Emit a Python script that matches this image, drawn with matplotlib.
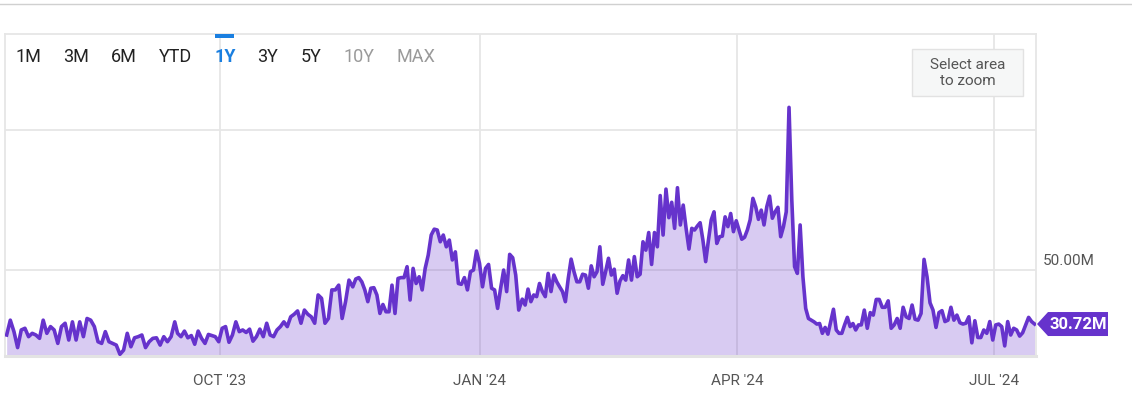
import numpy as np
import pandas as pd
import matplotlib
matplotlib.use('Agg')
from matplotlib import rcParams

rcParams['font.family'] = 'Roboto'

import matplotlib.pyplot as plt
import matplotlib.dates as mdates
from matplotlib.lines import Line2D
from matplotlib.patches import Polygon, Rectangle

# ############################################################
# daily volume, millions in 6 pieces
# ############################################################
seg_dates = [('2023-07-17 12:00', '2023-09-15 00:00'),
             ('2023-09-16 00:00', '2023-11-15 16:00'),
             ('2023-11-17 00:00', '2024-01-14 18:00'),
             ('2024-01-16 00:00', '2024-03-15 00:00'),
             ('2024-03-16 00:00', '2024-05-14 00:00'),
             ('2024-05-15 00:00', '2024-07-15 08:00')]

vol_1 = [26.8, 32.1, 28.0, 22.3, 28.6, 29.2, 26.2, 27.4, 26.8, 25.6, 32.1, 27.4, 29.8, 28.6,
         23.8, 29.8, 31.0, 25.0, 31.5, 25.0, 31.5, 26.2, 32.7, 32.1, 29.8, 24.4, 23.8, 28.0,
         24.4, 23.8, 23.2, 19.9, 21.4, 27.4, 22.6, 25.8, 26.2, 26.8, 22.3, 24.4, 25.6, 25.8,
         23.2, 26.2, 24.4, 26.2, 31.5]
vol_2 = [27.4, 26.2, 28.2, 25.8, 26.6, 23.5, 28.2, 25.6, 23.8, 27.0, 26.6, 26.2, 24.4, 29.2,
         29.8, 24.2, 26.8, 31.5, 28.0, 28.6, 27.7, 28.9, 24.6, 26.2, 28.9, 26.2, 31.0, 26.8,
         26.2, 28.6, 29.8, 31.5, 29.8, 33.3, 34.2, 35.4, 31.0, 35.7, 34.2, 33.3, 31.0, 41.1,
         39.9, 31.0, 32.7, 42.9, 42.9, 44.6, 32.7, 38.7, 46.4]
vol_3 = [44.0, 46.8, 47.3, 45.8, 42.9, 38.7, 43.5, 43.7, 41.1, 34.5, 37.7, 35.1, 35.1, 44.6,
         34.5, 47.0, 47.3, 47.3, 51.2, 39.3, 50.6, 45.2, 47.6, 42.9, 50.6, 55.3, 62.5, 64.6,
         64.3, 60.1, 62.5, 58.3, 60.7, 53.6, 56.5, 45.2, 44.9, 47.3, 42.9, 49.4, 50.0, 56.8,
         52.4, 44.0, 50.6, 52.0, 43.5, 42.9, 36.3, 43.5, 50.0, 42.3, 55.6, 54.4, 48.2, 35.7]
vol_4 = [39.6, 37.5, 43.2, 38.7, 41.1, 40.5, 45.2, 42.3, 40.5, 48.8, 42.3, 48.2, 45.8, 44.0,
         42.3, 38.7, 47.0, 53.9, 49.4, 45.8, 45.8, 48.5, 48.2, 43.5, 51.5, 47.6, 49.4, 58.3,
         44.9, 49.4, 54.2, 48.2, 50.3, 41.7, 46.1, 48.0, 46.4, 53.6, 46.4, 54.8, 47.6, 48.5,
         60.1, 57.1, 63.4, 52.0, 63.4, 58.3, 76.6, 62.5, 78.9, 68.7, 74.2, 64.9, 79.4, 66.1,
         73.2, 64.9, 57.5]
vol_5 = [64.9, 64.3, 65.7, 66.9, 60.7, 53.0, 60.7, 67.9, 70.8, 59.5, 61.9, 62.1, 69.0, 65.5,
         70.2, 63.7, 67.6, 64.3, 61.0, 61.7, 64.3, 67.9, 75.6, 72.6, 68.1, 71.4, 66.1, 72.6,
         76.4, 68.5, 70.8, 72.4, 61.9, 65.5, 70.8, 108.1, 75.0, 51.2, 48.8, 66.1, 47.6, 36.3,
         32.7, 32.1, 31.5, 30.7, 30.9, 27.4, 29.5, 27.1, 31.5, 36.0, 28.6, 27.4, 27.4, 30.4,
         33.1, 29.8, 30.9, 28.6, 30.4]
vol_6 = [30.4, 35.7, 29.2, 34.8, 33.9, 39.5, 39.5, 36.7, 36.7, 39.0, 29.2, 30.4, 32.7, 29.2,
         36.7, 33.3, 32.7, 37.5, 32.4, 32.1, 34.5, 53.8, 47.6, 38.3, 35.7, 29.5, 34.8, 35.5,
         31.6, 32.1, 36.7, 32.1, 33.9, 31.2, 30.7, 31.0, 33.3, 24.0, 31.9, 25.9, 25.9, 28.6,
         27.4, 31.6, 25.0, 30.4, 30.7, 29.8, 22.9, 31.6, 26.8, 29.2, 28.6, 26.4, 27.6, 30.4,
         33.1, 31.6, 30.72]

month_ticks = ['2023-10-01', '2024-01-01', '2024-04-01', '2024-07-01']
month_labels = ["OCT '23", "JAN '24", "APR '24", "JUL '24"]
y_grid = [50, 100]
y_labels = ['50.00M']
range_buttons = ['1M', '3M', '6M', 'YTD', '1Y', '3Y', '5Y', '10Y', 'MAX']
last_label = '30.72M'

LINE = '#6633cc'
GRID = '#e6e6e6'
TXT = '#555555'


def build_series():
    xs, ys = [], []
    for (d0, d1), vals in zip(seg_dates, [vol_1, vol_2, vol_3, vol_4, vol_5, vol_6]):
        t = np.linspace(mdates.date2num(pd.Timestamp(d0)), mdates.date2num(pd.Timestamp(d1)), len(vals))
        xs.extend(t)
        ys.extend(vals)
    return np.array(xs), np.array(ys)


def main():
    x, y = build_series()

    fig = plt.figure(figsize=(11.32, 4.0), dpi=100)
    ax = fig.add_axes([5 / 1132, 44 / 400, 1031 / 1132, 322 / 400])

    ax.set_xlim(mdates.date2num(pd.Timestamp('2023-07-16 22:00')),
                mdates.date2num(pd.Timestamp('2024-07-15 20:00')))
    ax.set_ylim(19.3, 134.3)

    # grid first, the fill tints it
    for v in y_grid:
        ax.axhline(v, color=GRID, lw=1.3, zorder=1)
    tick_nums = [mdates.date2num(pd.Timestamp(d)) for d in month_ticks]
    for t in tick_nums:
        ax.axvline(t, color=GRID, lw=1.3, zorder=1)

    ax.fill_between(x, y, 19.3, color=LINE, alpha=0.25, lw=0, zorder=2)
    ax.plot(x, y, color=LINE, lw=2.6, zorder=3, solid_joinstyle='round')

    ax.set_xticks(tick_nums)
    ax.set_xticklabels(month_labels, color=TXT, fontsize=11)
    ax.tick_params(axis='x', length=0, pad=13)
    ax.set_yticks([])

    for s in ['top', 'left', 'right']:
        ax.spines[s].set_color(GRID)
        ax.spines[s].set_linewidth(1.3)
    ax.spines['bottom'].set_color('#e3e3e3')
    ax.spines['bottom'].set_linewidth(2.2)

    ax.annotate(y_labels[0], xy=(1, y_grid[0]), xycoords=('axes fraction', 'data'),
                xytext=(7, 2), textcoords='offset pixels', ha='left', va='bottom',
                color=TXT, fontsize=11)

    # range selector
    btn_x = [28.5, 76, 124, 175.5, 225.5, 268, 311, 359, 415.5]
    for lab, bx in zip(range_buttons, btn_x):
        col = '#222222'
        wt = 'normal'
        if lab == '1Y':
            col = '#1a7fe0'
            wt = 'bold'
        elif lab in ('10Y', 'MAX'):
            col = '#9a9a9a'
        fig.text(bx / 1132, 1 - 57 / 400, lab, ha='center', va='center',
                 color=col, fontsize=13, fontweight=wt)
    fig.patches.append(Rectangle((215 / 1132, 1 - 38 / 400), 19 / 1132, 4 / 400,
                                 transform=fig.transFigure, color='#1a7fe0', lw=0))

    # zoom hint box
    fig.patches.append(Rectangle((912 / 1132, 1 - 96 / 400), 111 / 1132, 47 / 400,
                                 transform=fig.transFigure, facecolor='#f6f7f7',
                                 edgecolor='#e2e2e2', lw=1))
    fig.text(967.5 / 1132, 1 - 73 / 400, 'Select area\nto zoom', ha='center', va='center',
             color=TXT, fontsize=11, linespacing=1.25)

    # thin line along the top
    fig.add_artist(Line2D([0, 1], [1 - 3.5 / 400, 1 - 3.5 / 400], transform=fig.transFigure,
                          color='#d0d0d0', lw=1))

    # last value tag
    tip = ax.transData.transform((ax.get_xlim()[1], y[-1]))
    tx, ty = tip[0] + 1, tip[1]
    pts = [(tx, ty), (tx + 11, ty + 12), (tx + 71, ty + 12), (tx + 71, ty - 12), (tx + 11, ty - 12)]
    tag = Polygon(pts, closed=True, transform=None, facecolor=LINE, edgecolor='none')
    tag.set_clip_on(False)
    fig.patches.append(tag)
    fig.text((tx + 41.5) / 1132, ty / 400, last_label, ha='center', va='center',
             color='white', fontsize=12, fontweight='bold')

    fig.savefig('out.png', dpi=100)


if __name__ == '__main__':
    main()
